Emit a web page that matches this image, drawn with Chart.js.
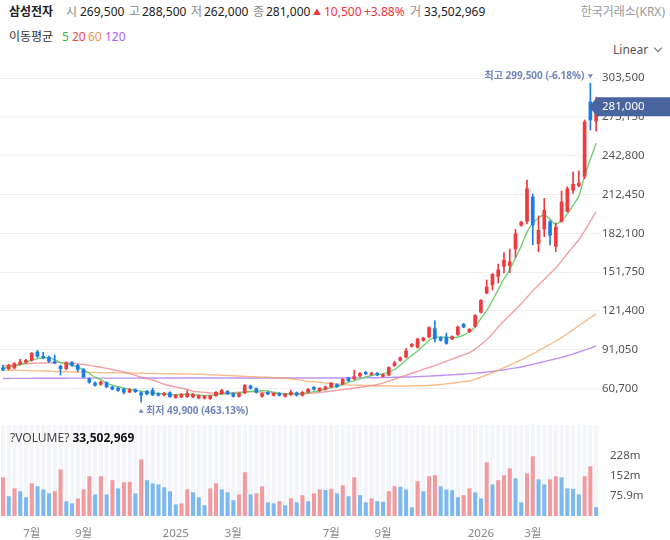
<!DOCTYPE html>
<html lang="ko">
<head>
<meta charset="utf-8">
<title>삼성전자 주봉</title>
<script src="https://cdn.jsdelivr.net/npm/chart.js@4.4.1/dist/chart.umd.min.js"></script>
<style>
  html, body { margin: 0; padding: 0; background: #fff; }
  body { width: 670px; height: 540px; position: relative; overflow: hidden;
         font-family: "Noto Sans", "Noto Sans CJK KR", sans-serif; color: #222; }
  .t { position: absolute; font-size: 12px; line-height: 16px; white-space: nowrap; }
  .k { color: #8a8a8a; }
  .up { color: #f0353b; }
  #priceWrap { position: absolute; left: 0; top: 60px; width: 670px; height: 365px; }
  #volWrap { position: absolute; left: 0; top: 425px; width: 670px; height: 115px; }
  #volLabel { position: absolute; left: 10px; top: 430px; font-size: 12px; line-height: 16px; color: #444; z-index: 2; }
  #volLabel b { color: #111; }
  .chev { display: inline-block; width: 5px; height: 5px; border-right: 1.2px solid #666; border-bottom: 1.2px solid #666;
          transform: rotate(45deg); position: absolute; left: 655px; top: 45px; }
</style>
</head>
<body>

<!-- 헤더: 종목명 + 마지막 봉 시세 -->
<div class="t" style="left:9px;top:4px;font-weight:bold;">삼성전자</div>
<div class="t k" style="left:66px;top:4px;">시</div><div class="t" id="hO" style="left:80px;top:4px;"></div>
<div class="t k" style="left:129px;top:4px;">고</div><div class="t" id="hH" style="left:142px;top:4px;"></div>
<div class="t k" style="left:191px;top:4px;">저</div><div class="t" id="hL" style="left:204px;top:4px;"></div>
<div class="t k" style="left:253px;top:4px;">종</div><div class="t" id="hC" style="left:266px;top:4px;"></div>
<div class="t up" style="left:313px;top:4px;font-size:8px;">▲</div>
<div class="t up" id="hChg" style="left:324px;top:4px;"></div>
<div class="t up" id="hPct" style="left:364px;top:4px;"></div>
<div class="t k" style="left:410px;top:4px;">거</div><div class="t" id="hV" style="left:424px;top:4px;"></div>
<div class="t" style="right:5px;top:4px;color:#999;">한국거래소(KRX)</div>

<!-- 이동평균 범례 -->
<div class="t" style="left:9px;top:29px;color:#333;">이동평균</div>
<div class="t" style="left:62px;top:29px;color:#36b836;">5</div>
<div class="t" style="left:72px;top:29px;color:#f2454a;">20</div>
<div class="t" style="left:88px;top:29px;color:#f3953f;">60</div>
<div class="t" style="left:105px;top:29px;color:#a862f0;">120</div>

<div class="t" style="left:613px;top:42px;color:#555;">Linear</div>
<span class="chev"></span>

<div id="priceWrap"><canvas id="priceChart"></canvas></div>
<div id="volLabel">?VOLUME? <b id="vLast"></b></div>
<div id="volWrap"><canvas id="volChart"></canvas></div>

<script>
// 주봉 시가 / 고가 / 저가 / 종가 (원)
const opens = [
  77000, 75800, 76500, 79600, 81000, 82400, 89500, 86100, 85300, 82000,
  78300, 75900, 81200, 79000, 75900, 68600, 65200, 63700, 65500, 62000,
  61200, 60300, 57600, 60000, 57600, 58700, 59500, 56900, 55300, 57600,
  53300, 53800, 54000, 53800, 53000, 52800, 52500, 54800, 56300, 58700,
  56900, 54300, 56900, 62900, 60800, 54300, 57900, 55100, 57100, 54300,
  55600, 57600, 55100, 57600, 61800, 58700, 59800, 61600, 63900, 63900,
  69100, 68000, 70200, 73500, 71400, 72800, 69900, 71000, 78300, 82400,
  85000, 93400, 92600, 98000, 100700, 107700, 100700, 101200, 99200, 102500,
  111100, 104800, 109000, 120000, 135100, 141600, 148100, 155900, 156700, 169500,
  188000, 191100, 210700, 173600, 185200, 191400, 171600, 191100, 199000, 215400,
  219000, 226300, 285000, 269500
];
const highs = [
  78900, 79600, 81000, 83500, 83500, 88800, 90500, 88900, 86000, 86900,
  79000, 81500, 81800, 79600, 76300, 69000, 65900, 66500, 66000, 62600,
  61800, 60800, 60800, 60400, 58200, 59300, 61000, 57300, 57600, 58100,
  56000, 56800, 59000, 56800, 55700, 55200, 55400, 58300, 60000, 59100,
  57300, 57300, 63800, 63300, 61200, 57300, 58300, 57500, 57500, 56800,
  59400, 58000, 58300, 60700, 62200, 61400, 62500, 65400, 64300, 68400,
  69500, 75100, 73100, 73900, 73400, 73200, 72100, 77700, 82000, 85400,
  92000, 95900, 100000, 100800, 109000, 113500, 101100, 104000, 101900, 109400,
  111500, 107600, 118400, 130300, 145500, 150600, 158000, 166900, 169800, 185100,
  191500, 223700, 212800, 195600, 209400, 192000, 190300, 215100, 218500, 230000,
  231000, 270700, 299500, 288500
];
const lows = [
  74500, 75200, 76000, 79000, 80300, 82000, 85000, 83800, 81000, 80000,
  71200, 75200, 78000, 73800, 69000, 64800, 62500, 63200, 61300, 59600,
  58500, 56400, 57200, 57500, 49900, 55700, 55000, 54700, 54900, 53600,
  53000, 53400, 53600, 53400, 52600, 52400, 52100, 54400, 55900, 55900,
  53900, 53900, 56500, 60100, 57000, 53900, 55700, 54700, 54700, 53900,
  55200, 54700, 54700, 57200, 59400, 58300, 59400, 61200, 61400, 63500,
  66100, 67600, 69800, 71400, 71000, 70600, 69500, 70600, 77900, 82000,
  84600, 93000, 92200, 97600, 100300, 97000, 97700, 95300, 98800, 102100,
  108100, 104400, 108600, 119600, 134700, 137700, 143200, 151000, 151200, 163300,
  187600, 189300, 172900, 167700, 179400, 172900, 167700, 190700, 198600, 213300,
  218600, 224700, 262800, 262000
];
const closes = [
  75000, 78900, 80400, 81700, 83000, 88400, 85600, 84300, 81700, 80300,
  75900, 80900, 78600, 75200, 69400, 65200, 62900, 66000, 61800, 60000,
  58900, 57400, 59900, 57900, 55300, 56100, 55300, 55100, 57100, 54000,
  55600, 56400, 56900, 56400, 55300, 54800, 55000, 57900, 59500, 56300,
  54300, 56900, 63400, 60500, 57400, 56900, 56100, 57100, 55100, 56400,
  57900, 55100, 57900, 60300, 59800, 61000, 62100, 65000, 61800, 68000,
  66500, 70200, 72700, 71800, 73000, 71000, 71700, 77300, 80900, 85000,
  90200, 95500, 99600, 100400, 108500, 99200, 98100, 95700, 101500, 109000,
  108500, 107200, 118000, 129900, 140300, 150200, 153800, 161200, 159900, 182000,
  191100, 217200, 188500, 184600, 200300, 180200, 187200, 206800, 217200, 220600,
  221600, 269300, 270500, 281000
];

// 거래량 (백만 주)
const volumeM = [
  147, 75, 105, 94, 71, 124, 113, 101, 86, 94,
  177, 56, 48, 67, 101, 151, 82, 151, 82, 136,
  105, 128, 130, 86, 215, 136, 124, 120, 109, 94,
  44, 48, 101, 90, 71, 41, 105, 124, 101, 90,
  60, 82, 166, 82, 86, 113, 52, 48, 56, 41,
  67, 52, 79, 56, 86, 101, 99, 103, 86, 117,
  75, 147, 79, 52, 67, 56, 54, 94, 113, 111,
  101, 33, 132, 94, 151, 155, 113, 101, 98, 71,
  79, 105, 90, 67, 204, 120, 136, 155, 181, 143,
  52, 162, 227, 139, 120, 139, 151, 147, 105, 103,
  82, 151, 189, 33.502969
];

// 이동평균선
const ma5 = [
  76500, 77300, 78200, 79200, 81000, 83000, 84000, 84700, 84500, 83300,
  81000, 80200, 79000, 77600, 75000, 72500, 69500, 67500, 64800, 63300,
  62000, 61000, 60000, 59300, 58600, 57900, 57300, 56800, 56400, 56000,
  55800, 55900, 56100, 55900, 55500, 55100, 55300, 55800, 56400, 56700,
  56800, 57000, 57900, 58300, 58600, 59000, 58800, 57800, 56800, 56600,
  56600, 56500, 56600, 57500, 58200, 58900, 60200, 61500, 62200, 63800,
  65500, 66800, 68300, 69800, 70700, 71500, 72000, 73500, 75500, 79000,
  83000, 86500, 90000, 94000, 98500, 100500, 101000, 100600, 100600, 100700,
  102500, 104800, 109000, 115500, 121500, 129500, 138000, 146500, 153500, 163000,
  172000, 183000, 190000, 194000, 196500, 193000, 189000, 192000, 197000, 204000,
  211000, 227000, 240000, 252500
];
const ma20 = [
  78200, 78600, 79100, 79500, 80000, 80400, 80500, 80600, 80700, 80800,
  80900, 80900, 80500, 80000, 79400, 78700, 78000, 77300, 76400, 75500,
  74500, 73700, 72300, 71000, 69500, 68400, 67300, 65700, 64000, 62800,
  61900, 60900, 59900, 58500, 58000, 57600, 57200, 57000, 56900, 57100,
  57400, 57700, 58100, 58200, 58000, 57700, 57400, 57100, 56800, 56600,
  56500, 56400, 56500, 56800, 57100, 57500, 58100, 58600, 59200, 59800,
  60300, 60900, 61500, 62200, 62900, 63700, 65000, 66400, 67900, 69500,
  71000, 72600, 74100, 75600, 77100, 78600, 80300, 82000, 83700, 85300,
  87000, 88700, 91500, 95000, 99000, 103500, 108800, 113500, 118000, 122500,
  127000, 132000, 137000, 141500, 146000, 150500, 155000, 160500, 166000, 171500,
  177000, 184000, 191500, 199000
];
const ma60 = [
  75100, 75000, 74900, 74800, 74700, 74500, 74400, 74300, 74100, 74000,
  73900, 73700, 73600, 73500, 73400, 73300, 73200, 73100, 73000, 73000,
  72900, 72800, 72800, 72700, 72600, 72500, 72400, 72300, 72300, 72200,
  72100, 72000, 71900, 71900, 71800, 71600, 71400, 71200, 71000, 70800,
  70600, 70400, 70100, 69900, 69700, 69500, 69300, 69100, 68900, 68700,
  68300, 67700, 67000, 66300, 65900, 65500, 64900, 64600, 64200, 63800,
  63400, 63300, 63200, 63100, 62900, 62800, 62800, 62700, 62600, 62600,
  62600, 62700, 62800, 62900, 63100, 63400, 63800, 64300, 64800, 65400,
  66000, 66500, 67800, 69500, 71200, 73100, 75100, 77000, 79000, 81000,
  83100, 85300, 87700, 90200, 92700, 95100, 97600, 100500, 103500, 106500,
  109800, 113000, 116000, 119000
];
const ma120 = [
  68500, 68500, 68600, 68600, 68600, 68600, 68700, 68700, 68700, 68700,
  68700, 68700, 68800, 68800, 68800, 68800, 68800, 68800, 68800, 68800,
  68800, 68800, 68800, 68800, 68900, 68900, 68900, 68900, 68900, 68900,
  68900, 68900, 68900, 68900, 68900, 68900, 68900, 68900, 68900, 68900,
  68900, 68900, 68900, 68900, 68900, 68900, 68900, 68900, 68900, 68900,
  68900, 68900, 68900, 68900, 68900, 68900, 68900, 68900, 68900, 68900,
  68900, 68900, 68950, 69000, 69050, 69100, 69200, 69300, 69400, 69500,
  69600, 69750, 69900, 70100, 70350, 70600, 70850, 71100, 71350, 71600,
  71950, 72300, 72650, 73000, 73500, 74000, 74600, 75300, 76000, 76750,
  77500, 78500, 79550, 80600, 81700, 82800, 83900, 85000, 86300, 87700,
  89200, 90700, 92300, 93900
];

// 축 눈금
const tickIdx  = [5, 14, 30, 40, 57, 66, 83, 92];
const tickText = ['7월', '9월', '2025', '3월', '7월', '9월', '2026', '3월'];
const priceTicks = [60700, 91050, 121400, 151750, 182100, 212450, 242800, 273150, 303500];
const volTicks = [75.9, 151.8, 227.7];

const N = closes.length;
const idx = closes.map((_, i) => i);
const FONT = '"Noto Sans", "Noto Sans CJK KR", sans-serif';
const UP = '#ef3a3f', DOWN = '#1b7ce6';
const AXIS_W = 71;
const fmt = v => Math.round(v).toLocaleString('en-US');

const candleColors = closes.map((c, i) => c >= opens[i] ? UP : DOWN);
const volColors = volumeM.map((v, i) => (i === 0 || v >= volumeM[i - 1]) ? '#f29a9d' : '#7cb8f2');

// 헤더 채우기
const lastC = closes[N - 1], prevC = closes[N - 2];
document.getElementById('hO').textContent = fmt(opens[N - 1]);
document.getElementById('hH').textContent = fmt(highs[N - 1]);
document.getElementById('hL').textContent = fmt(lows[N - 1]);
document.getElementById('hC').textContent = fmt(lastC);
document.getElementById('hChg').textContent = fmt(lastC - prevC);
document.getElementById('hPct').textContent = '+' + ((lastC - prevC) / prevC * 100).toFixed(2) + '%';
document.getElementById('hV').textContent = fmt(volumeM[N - 1] * 1e6);
document.getElementById('vLast').textContent = fmt(volumeM[N - 1] * 1e6);

Chart.defaults.font.family = FONT;
Chart.defaults.animation = false;

// 축 라벨 때문에 생기는 위/아래 여백 제거 (차트 영역 = 캔버스 전체 높이)
function fitRightAxis(s) {
  s.width = AXIS_W;
  s.paddingTop = 0;
  s.paddingBottom = 0;
}

function tri(ctx, cx, cy, down) {
  ctx.beginPath();
  if (down) { ctx.moveTo(cx - 2.5, cy - 2); ctx.lineTo(cx + 2.5, cy - 2); ctx.lineTo(cx, cy + 2); }
  else      { ctx.moveTo(cx - 2.5, cy + 2); ctx.lineTo(cx + 2.5, cy + 2); ctx.lineTo(cx, cy - 2); }
  ctx.closePath();
  ctx.fill();
}

// 최고/최저 표시와 현재가 태그
const markerPlugin = {
  id: 'markers',
  afterDraw(chart) {
    const { ctx, chartArea, scales: { x, y } } = chart;
    const hiIdx = highs.indexOf(Math.max(...highs));
    const loIdx = lows.indexOf(Math.min(...lows));
    ctx.save();
    ctx.fillStyle = '#7186bd';
    ctx.font = 'bold 10px ' + FONT;
    ctx.textBaseline = 'middle';

    const hx = x.getPixelForValue(hiIdx), hy = y.getPixelForValue(highs[hiIdx]);
    tri(ctx, hx, hy - 7, true);
    ctx.textAlign = 'right';
    ctx.fillText(`최고 ${fmt(highs[hiIdx])} (${((lastC / highs[hiIdx] - 1) * 100).toFixed(2)}%)`, hx - 6, hy - 6.5);

    const lx = x.getPixelForValue(loIdx), ly = y.getPixelForValue(lows[loIdx]);
    tri(ctx, lx, ly + 8.5, false);
    ctx.textAlign = 'left';
    ctx.fillText(`최저 ${fmt(lows[loIdx])} (${((lastC / lows[loIdx] - 1) * 100).toFixed(2)}%)`, lx + 5, ly + 8.5);

    const py = y.getPixelForValue(lastC);
    const tip = chartArea.right - 10;
    ctx.fillStyle = '#4a64a0';
    ctx.beginPath();
    ctx.moveTo(tip, py);
    ctx.lineTo(tip + 8, py - 9.5);
    ctx.lineTo(chart.width, py - 9.5);
    ctx.lineTo(chart.width, py + 9.5);
    ctx.lineTo(tip + 8, py + 9.5);
    ctx.closePath();
    ctx.fill();
    ctx.fillStyle = '#fff';
    ctx.font = '11.5px ' + FONT;
    ctx.fillText(fmt(lastC), chartArea.right + 3, py);
    ctx.restore();
  }
};

const maLine = (data, color, order) => ({
  type: 'line', data, borderColor: color, borderWidth: 1.4,
  pointRadius: 0, tension: 0.2, order
});

new Chart(document.getElementById('priceChart'), {
  type: 'bar',
  data: {
    labels: idx,
    datasets: [
      { data: opens.map((o, i) => [o, closes[i]]), backgroundColor: candleColors,
        barPercentage: 0.64, categoryPercentage: 1, grouped: false, minBarLength: 1, order: 0 },
      { data: lows.map((l, i) => [l, highs[i]]), backgroundColor: candleColors,
        barThickness: 1, grouped: false, order: 1 },
      maLine(ma5, 'rgba(96, 204, 96, 0.9)', 2),
      maLine(ma20, 'rgba(242, 118, 124, 0.7)', 3),
      maLine(ma60, 'rgba(248, 165, 100, 0.75)', 4),
      maLine(ma120, 'rgba(170, 110, 240, 0.75)', 5)
    ]
  },
  options: {
    responsive: true, maintainAspectRatio: false,
    layout: { padding: 0 },
    plugins: { legend: { display: false }, tooltip: { enabled: false } },
    scales: {
      x: { type: 'category', offset: true, display: false },
      y: {
        position: 'right', min: 32100, max: 317600,
        afterBuildTicks: s => { s.ticks = priceTicks.map(v => ({ value: v })); },
        afterFit: fitRightAxis,
        grid: { color: '#efefef', drawTicks: false },
        border: { display: false },
        ticks: { padding: 3, color: '#555', font: { size: 11.5 }, callback: v => fmt(v) }
      }
    }
  },
  plugins: [markerPlugin]
});

// 거래량 영역 배경 줄무늬
const stripePlugin = {
  id: 'stripes',
  beforeDatasetsDraw(chart) {
    const { ctx, chartArea, scales: { x } } = chart;
    const w = (x.getPixelForValue(1) - x.getPixelForValue(0)) * 0.7;
    ctx.save();
    ctx.fillStyle = '#f3f5fa';
    idx.forEach(i => {
      ctx.fillRect(x.getPixelForValue(i) - w / 2, chartArea.top, w, chartArea.bottom - chartArea.top);
    });
    ctx.restore();
  }
};

new Chart(document.getElementById('volChart'), {
  type: 'bar',
  data: {
    labels: idx,
    datasets: [{ data: volumeM, backgroundColor: volColors, barPercentage: 0.7, categoryPercentage: 1 }]
  },
  options: {
    responsive: true, maintainAspectRatio: false,
    layout: { padding: 0 },
    plugins: { legend: { display: false }, tooltip: { enabled: false } },
    scales: {
      x: {
        type: 'category', offset: true,
        grid: { display: false }, border: { display: false },
        afterFit: s => { s.height = 24; },
        ticks: {
          autoSkip: false, maxRotation: 0, padding: 3, color: '#888', font: { size: 11.5 },
          callback: (v, i) => { const k = tickIdx.indexOf(i); return k < 0 ? '' : tickText[k]; }
        }
      },
      y: {
        position: 'right', min: 0, max: 345.8,
        afterBuildTicks: s => { s.ticks = volTicks.map(v => ({ value: v })); },
        afterFit: fitRightAxis,
        grid: { display: false }, border: { display: false },
        ticks: { padding: 3, color: '#555', font: { size: 11.5 },
                 callback: v => (v >= 100 ? Math.round(v) : v.toFixed(1)) + 'm' }
      }
    }
  },
  plugins: [stripePlugin]
});
</script>
</body>
</html>
